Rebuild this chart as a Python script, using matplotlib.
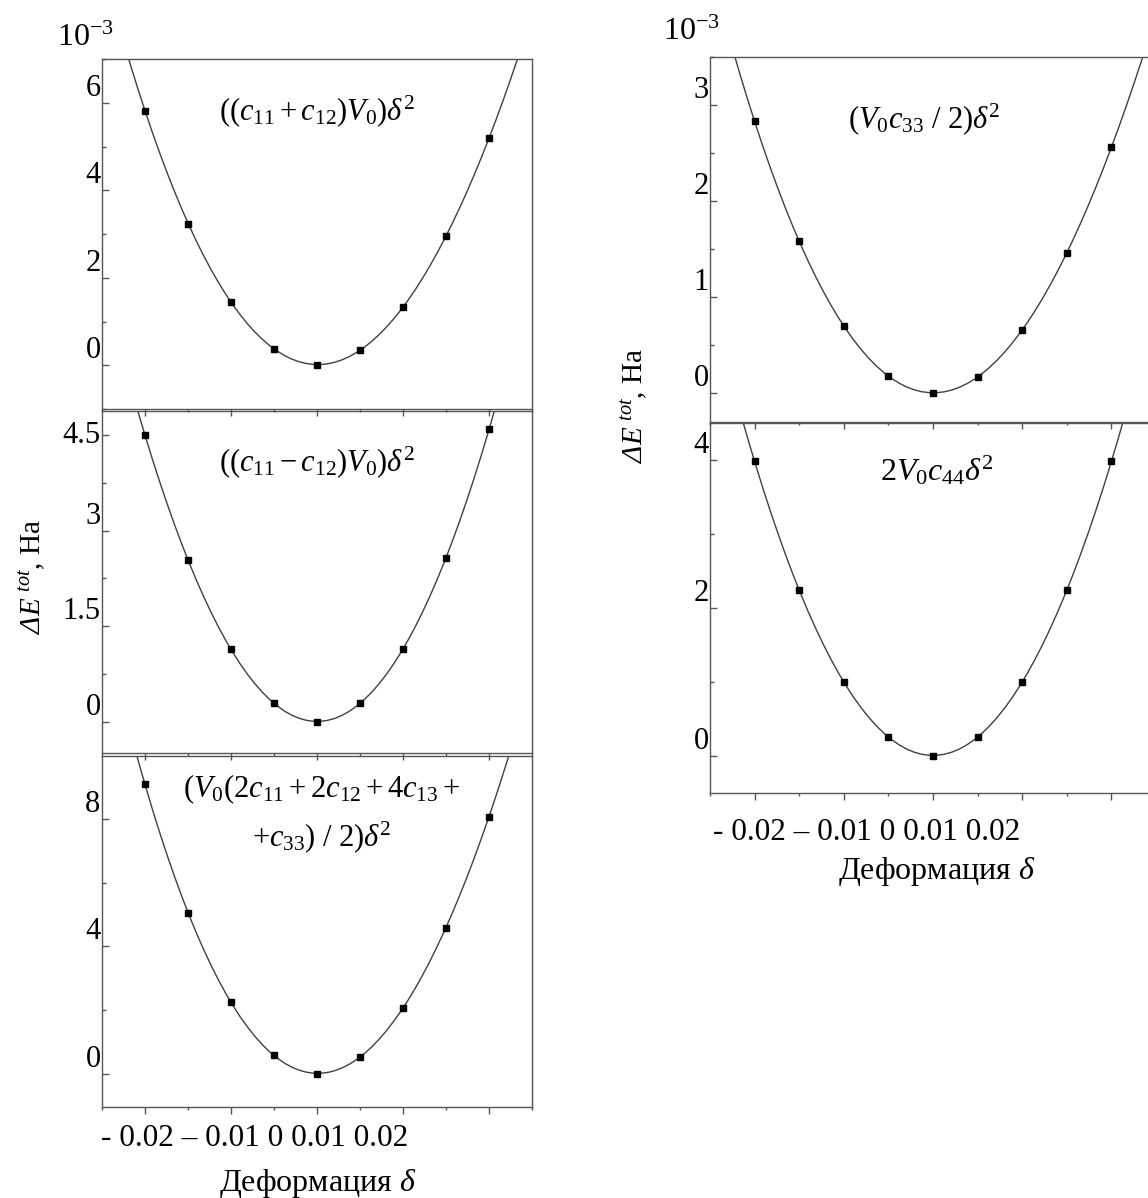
import numpy as np
import matplotlib
matplotlib.use("Agg")
import matplotlib.pyplot as plt
from matplotlib.ticker import MultipleLocator, FuncFormatter

plt.rcParams["font.family"] = ["Liberation Serif", "DejaVu Serif"]
plt.rcParams["mathtext.fontset"] = "custom"
plt.rcParams["mathtext.rm"] = "Liberation Serif"
plt.rcParams["mathtext.it"] = "Liberation Serif:italic"
plt.rcParams["mathtext.bf"] = "Liberation Serif:bold"
plt.rcParams["mathtext.sf"] = "Liberation Serif:italic"  # used for the slanted Delta

# deformation steps (same for all panels)
delta = [-0.02, -0.015, -0.01, -0.005, 0.0, 0.005, 0.01, 0.015, 0.02]

# energy change, units of 1e-3 Ha
e_c11_plus_c12 = [5.82, 3.24, 1.45, 0.38, 0.0, 0.35, 1.33, 2.95, 5.19]
e_c11_minus_c12 = [4.50, 2.54, 1.14, 0.29, 0.0, 0.29, 1.15, 2.57, 4.59]
e_mixed = [9.08, 5.06, 2.25, 0.60, 0.0, 0.54, 2.08, 4.59, 8.07]
e_c33 = [2.83, 1.58, 0.70, 0.18, 0.0, 0.17, 0.66, 1.46, 2.56]
e_c44 = [3.98, 2.24, 1.00, 0.26, 0.0, 0.26, 1.00, 2.24, 3.98]

W, H = 1148, 1198
fig = plt.figure(figsize=(W / 100, H / 100), dpi=100)

SPINE = "#555555"
LINE = "#404040"


def add_panel(left, top, right, bottom):
    ax = fig.add_axes([left / W, 1 - bottom / H, (right - left) / W, (bottom - top) / H])
    ax.patch.set_visible(False)
    return ax


def draw(ax, y, ylim, major, minor):
    x = np.array(delta)
    yv = np.array(y)
    coef = np.polyfit(x, yv, 4)
    xs = np.linspace(-0.025, 0.025, 60)
    ax.plot(xs, np.polyval(coef, xs), color=LINE, lw=1.0, zorder=2)
    ax.plot(x, yv, "s", color="black", ms=5, zorder=3)
    ax.set_xlim(-0.025, 0.025)
    ax.set_ylim(*ylim)
    ax.xaxis.set_major_locator(MultipleLocator(0.01))
    ax.xaxis.set_minor_locator(MultipleLocator(0.005))
    ax.yaxis.set_major_locator(MultipleLocator(major))
    ax.yaxis.set_minor_locator(MultipleLocator(minor))
    ax.yaxis.set_major_formatter(FuncFormatter(lambda v, p: f"{v:g}"))
    ax.tick_params(axis="x", which="major", direction="out", length=5, width=1, color=SPINE, labelbottom=False)
    ax.tick_params(axis="x", which="minor", direction="out", length=2.5, width=1, color=SPINE)
    ax.tick_params(axis="y", which="major", direction="in", length=5, width=1, color=SPINE, labelsize=22, pad=1)
    ax.tick_params(axis="y", which="minor", direction="in", length=3, width=1, color=SPINE)
    for s in ax.spines.values():
        s.set_color(SPINE)
        s.set_linewidth(1.0)
    return ax


# left column
ax1 = draw(add_panel(102, 59, 532, 409), e_c11_plus_c12, (-1, 7), 2, 1)
ax2 = draw(add_panel(102, 411, 532, 753), e_c11_minus_c12, (-0.49, 4.88), 1.5, 0.75)
ax3 = draw(add_panel(102, 756, 532, 1107), e_mixed, (-1.03, 9.97), 4, 2)

# right column (runs past the right edge, like the original)
ax4 = draw(add_panel(710, 57, 1156, 422), e_c33, (-0.3, 3.5), 1, 0.5)
ax5 = draw(add_panel(710, 423, 1156, 793), e_c44, (-0.5, 4.5), 2, 1)

fig.canvas.draw()
for ax in (ax1, ax2, ax3, ax4, ax5):
    for lab in ax.get_yticklabels():
        lab.set_va("bottom")
# the top label of the middle panel sits centred on its tick
for lab in ax2.get_yticklabels():
    if lab.get_text() == "4.5":
        lab.set_va("center")

fs = 22
ax1.text(0.5, 0.85, r"$((c_{11}+c_{12})V_0)\delta^2$", transform=ax1.transAxes, ha="center", va="center", fontsize=fs)
ax2.text(0.5, 0.85, r"$((c_{11}-c_{12})V_0)\delta^2$", transform=ax2.transAxes, ha="center", va="center", fontsize=fs)
ax3.text(0.51, 0.905, r"$(V_0(2c_{11}+2c_{12}+4c_{13}+$", transform=ax3.transAxes, ha="center", va="center", fontsize=fs)
ax3.text(0.51, 0.77, r"$+c_{33})\ /\ 2)\delta^2$", transform=ax3.transAxes, ha="center", va="center", fontsize=fs)
ax4.text(0.48, 0.83, r"$(V_0c_{33}\ /\ 2)\delta^2$", transform=ax4.transAxes, ha="center", va="center", fontsize=22)
ax5.text(0.51, 0.87, r"$2V_0c_{44}\delta^2$", transform=ax5.transAxes, ha="center", va="center", fontsize=23)

# x tick strings and axis titles
tick_str = "- 0.02 \u2013 0.01 0 0.01 0.02"
fig.text(101 / W, 1 - 1138 / H, tick_str, ha="left", va="center", fontsize=22.5)
fig.text(713 / W, 1 - 832 / H, tick_str, ha="left", va="center", fontsize=22.5)
fig.text(318 / W, 1 - 1183 / H, "Деформация $\\delta$", ha="center", va="center", fontsize=23)
fig.text(937 / W, 1 - 872 / H, "Деформация $\\delta$", ha="center", va="center", fontsize=23)

ylab = r"$\mathsf{\Delta}E^{\ tot}$, Ha"
fig.text(33 / W, 1 - 577 / H, ylab, ha="center", va="center", rotation=90, fontsize=21)
fig.text(635 / W, 1 - 406 / H, ylab, ha="center", va="center", rotation=90, fontsize=21)

fig.text(57 / W, 1 - 38 / H, r"10$^{\mathrm{-3}}$", ha="left", va="center", fontsize=23)
fig.text(663 / W, 1 - 32 / H, r"10$^{\mathrm{-3}}$", ha="left", va="center", fontsize=23)

fig.savefig("out.png", dpi=100, facecolor="white")
